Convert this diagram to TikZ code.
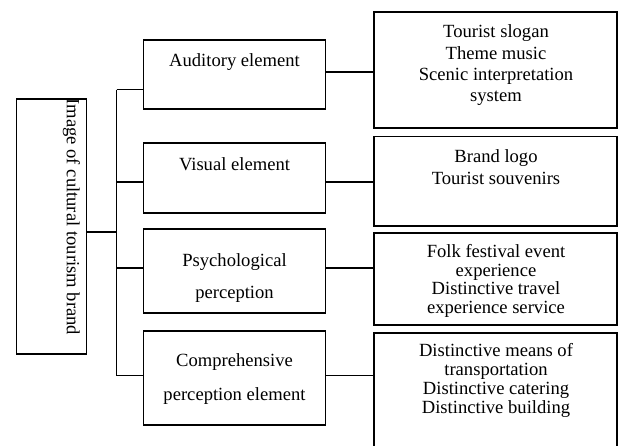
\documentclass[tikz,border=0pt]{standalone}
\usepackage{fontspec}
\setmainfont{Liberation Serif}
\begin{document}
\begin{tikzpicture}[x=1pt,y=-1pt,
  box/.style={draw=black,line width=1.7pt,inner sep=0pt,outer sep=0pt,fill=none},
  conn/.style={draw=black,line width=1.3pt},
  lbl/.style={inner sep=0pt,outer sep=0pt,align=center,text=black},
  fs/.style={font={\fontsize{18.6}{#1}\selectfont}}]
\clip (0,0) rectangle (619,445);
\fill[white] (0,0) rectangle (619,445);
% root box
\node[box,minimum width=70pt,minimum height=255pt] (L) at (51.5,226.5) {};
\node[lbl,fs=22,rotate=-90,anchor=west] (Lt) at (71.3,98.5) {Image of cultural tourism brand};
% middle boxes
\node[box,minimum width=182pt,minimum height=69pt] (A1) at (234.5,74.5) {};
\node[box,minimum width=182pt,minimum height=70pt] (A2) at (234.5,178) {};
\node[box,minimum width=182pt,minimum height=84pt] (A3) at (234.5,271) {};
\node[box,minimum width=182pt,minimum height=94pt] (A4) at (234.5,378) {};
\node[lbl,fs=22,anchor=base] (A1t) at (234.5,66.7) {Auditory element};
\node[lbl,fs=22,anchor=base] (A2t) at (234.5,170) {Visual element};
\node[lbl,fs=32,anchor=north] (A3t) at (234.5,253.3) {Psychological\\perception};
\node[lbl,fs=33.3,anchor=north] (A4t) at (234.5,354) {Comprehensive\\perception element};
% right boxes
\node[box,minimum width=243pt,minimum height=116pt] (B1) at (495.5,70) {};
\node[box,minimum width=243pt,minimum height=89.5pt] (B2) at (495.5,181.25) {};
\node[box,minimum width=243pt,minimum height=92pt] (B3) at (495.5,279) {};
\node[box,minimum width=243pt,minimum height=124pt] (B4) at (495.5,395) {};
\node[lbl,fs=21.2,anchor=north] (B1t) at (496,25) {Tourist slogan\\Theme music\\Scenic interpretation\\system};
\node[lbl,fs=22,anchor=north] (B2t) at (496,149.6) {Brand logo\\Tourist souvenirs};
\node[lbl,fs=18.7,anchor=north] (B3t) at (496,244.3) {Folk festival event\\experience\\Distinctive travel\\experience service};
\node[lbl,fs=19,anchor=north] (B4t) at (496,343.3) {Distinctive means of\\transportation\\Distinctive catering\\Distinctive building};
% trunk
\coordinate (tt) at (116.5,89.5);
\coordinate (tb) at (116.5,375.5);
\coordinate (tr) at (116.5,232);
\coordinate (t2) at (116.5,182);
\coordinate (t3) at (116.5,268);
\draw[conn] (tt) -- (tb);
\draw[conn] (L.east |- tr) -- (tr);
\draw[conn] (tt) -- (A1.west |- tt);
\draw[conn] (t2) -- (A2.west |- t2);
\draw[conn] (t3) -- (A3.west |- t3);
\draw[conn] (tb) -- (A4.west |- tb);
% right connectors
\coordinate (r1) at (0,72);
\draw[conn] (A1.east |- r1) -- (B1.west |- r1);
\draw[conn] (A2.east |- t2) -- (B2.west |- t2);
\draw[conn] (A3.east |- t3) -- (B3.west |- t3);
\draw[conn] (A4.east |- tb) -- (B4.west |- tb);
\end{tikzpicture}
\end{document}
